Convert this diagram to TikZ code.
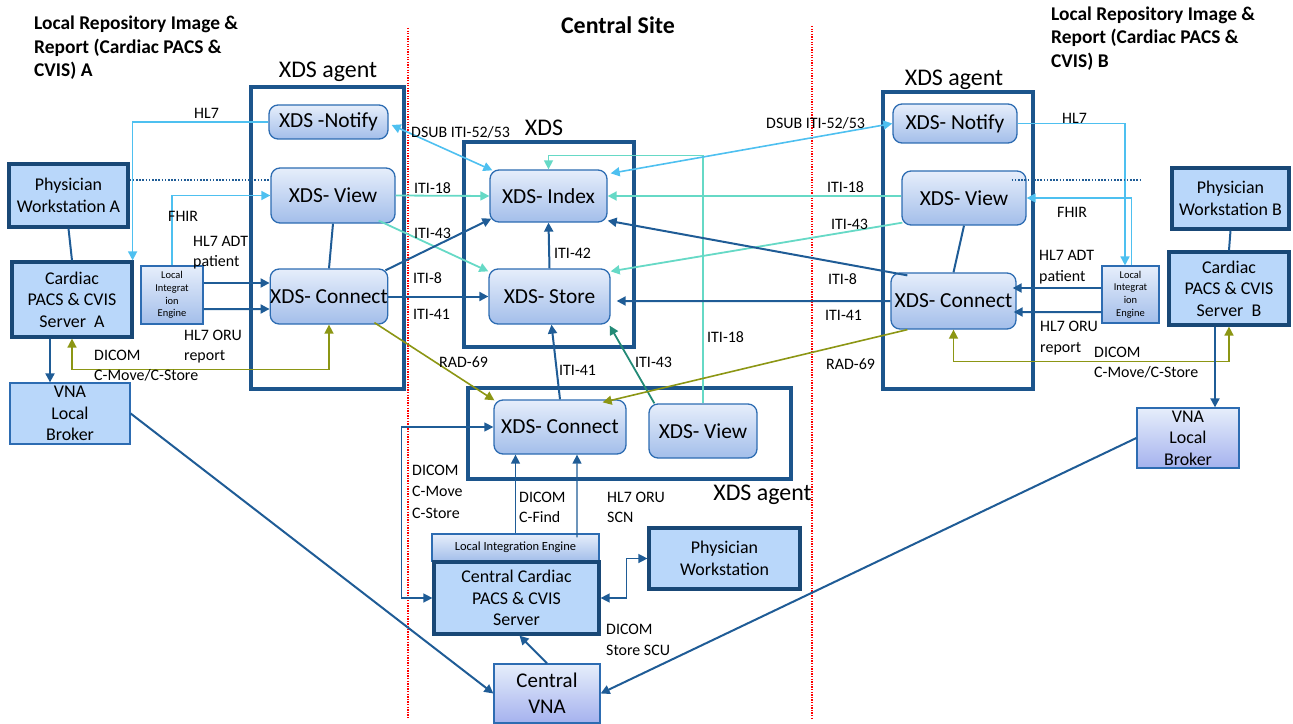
\documentclass[tikz,border=0pt]{standalone}
\usepackage{fontspec}
\setmainfont{Carlito}
\usetikzlibrary{arrows.meta,calc}
\definecolor{dblue}{RGB}{31,92,150}
\definecolor{thickborder}{RGB}{25,72,118}
\definecolor{agentborder}{RGB}{28,85,140}
\definecolor{nodeborder}{RGB}{45,108,178}
\definecolor{nodefill}{RGB}{185,215,250}
\definecolor{gtop}{RGB}{230,238,251}
\definecolor{gbot}{RGB}{163,190,234}
\definecolor{lavbot}{RGB}{165,178,238}
\definecolor{lblue}{RGB}{78,192,240}
\definecolor{turq}{RGB}{102,217,198}
\definecolor{tealc}{RGB}{35,138,118}
\definecolor{olive}{RGB}{140,150,20}
\begin{document}
\begin{tikzpicture}[x=1bp,y=-1bp,
  >={Triangle[length=9bp,width=9bp]},
  lbl/.style={font=\fontsize{16}{20.5}\selectfont, align=left, anchor=west, inner sep=0pt},
  ttl/.style={font=\fontsize{19.5}{23.5}\selectfont\bfseries, align=left, anchor=west, inner sep=0pt},
  boxttl/.style={font=\fontsize{24}{28}\selectfont, inner sep=0pt},
  agentbox/.style={draw=agentborder, line width=4bp, inner sep=0pt},
  xnode/.style={draw=nodeborder, line width=1.3bp, rounded corners=9bp, top color=gtop, bottom color=gbot, font=\fontsize{21.5}{25}\selectfont, inner sep=0pt},
  bbox/.style={draw=thickborder, line width=3.2bp, fill=nodefill, align=center, inner sep=0pt, font=\fontsize{18}{21.5}\selectfont},
  vbox/.style={draw=nodeborder, line width=1.3bp, fill=nodefill, align=center, inner sep=0pt, font=\fontsize{18}{21.5}\selectfont},
  lavbox/.style={draw=nodeborder, line width=1.3bp, top color=gtop, bottom color=lavbot, align=center, inner sep=0pt, font=\fontsize{18}{21.5}\selectfont},
  liebox/.style={draw=nodeborder, line width=1.1bp, top color=gtop, bottom color=gbot, align=center, inner sep=0pt, font=\fontsize{10.5}{12.8}\selectfont},
  cdb/.style={draw=dblue, line width=2bp},
  cthin/.style={draw=dblue, line width=1.4bp},
  clb/.style={draw=lblue, line width=1.6bp},
  ctq/.style={draw=turq, line width=1.8bp},
  cteal/.style={draw=tealc, line width=1.8bp},
  col/.style={draw=olive, line width=1.6bp},
  dotln/.style={draw=dblue, line width=1.8bp, dash pattern=on 1.6bp off 1.6bp},
  reddot/.style={draw=red, line width=1.3bp, dash pattern=on 1.3bp off 1.3bp}
]
\useasboundingbox (0,0) rectangle (1293,724);

% separators
\coordinate (sepLt) at (408,28); \coordinate (sepLb) at (408,718);
\coordinate (sepRt) at (812,26); \coordinate (sepRb) at (812,718);
\draw[reddot] (sepLt) -- (sepLb);
\draw[reddot] (sepRt) -- (sepRb);

% titles
\node[ttl] (titA) at (34,48) {Local Repository Image \&\\Report (Cardiac PACS \&\\CVIS) A};
\node[ttl] (titB) at (1051,38.5) {Local Repository Image \&\\Report (Cardiac PACS \&\\CVIS) B};
\node[font=\fontsize{24}{28}\selectfont\bfseries, inner sep=0pt] (titC) at (618,25) {Central Site};

% containers
\node[agentbox, minimum width=153bp, minimum height=302bp] (agentA) at (327.5,238) {};
\node[boxttl] (agentAt) at (328,72) {XDS agent};
\node[agentbox, minimum width=170bp, minimum height=205bp] (xdsbox) at (549,244.5) {};
\node[boxttl] (xdst) at (544,128) {XDS};
\node[agentbox, minimum width=323bp, minimum height=91bp] (agentC) at (629.5,433.5) {};
\node[boxttl] (agentCt) at (762.5,495) {XDS agent};
\node[agentbox, minimum width=150bp, minimum height=297bp] (agentB) at (958,240.5) {};
\node[boxttl] (agentBt) at (954,80) {XDS agent};

% left site
\node[bbox, minimum width=119bp, minimum height=63bp] (physA) at (68.5,195.5) {Physician\\Workstation A};
\node[bbox, minimum width=120bp, minimum height=75bp] (cardA) at (72,299.5) {Cardiac\\PACS \& CVIS\\Server~ A};
\node[vbox, minimum width=120bp, minimum height=61bp] (vnaA) at (70,413.5) {VNA\\Local\\Broker};
\node[liebox, minimum width=62bp, minimum height=58bp] (lieA) at (172,295) {Local\\Integrat\\ion\\Engine};
\node[xnode, minimum width=119bp, minimum height=34bp] (notifyA) at (328.5,122) {XDS -Notify};
\node[xnode, minimum width=124bp, minimum height=55bp] (viewA) at (333,195.5) {XDS- View};
\node[xnode, minimum width=116bp, minimum height=55bp] (connA) at (329,296.5) {XDS- Connect};

% central
\node[xnode, minimum width=117bp, minimum height=52bp] (index) at (548.5,196) {XDS- Index};
\node[xnode, minimum width=121bp, minimum height=55bp] (store) at (549.5,296.5) {XDS- Store};
\node[xnode, minimum width=132bp, minimum height=54bp] (connC) at (560,427) {XDS- Connect};
\node[xnode, minimum width=108bp, minimum height=54bp] (viewC) at (703,431) {XDS- View};
\node[liebox, minimum width=167bp, minimum height=27bp, font=\fontsize{12.5}{15}\selectfont] (lieC) at (515.5,547.5) {Local Integration Engine};
\node[bbox, minimum width=165bp, minimum height=72bp] (cpacs) at (516.5,598) {Central Cardiac\\PACS \& CVIS\\Server};
\node[bbox, minimum width=151bp, minimum height=61bp] (physC) at (724.5,558.5) {Physician\\Workstation};
\node[lavbox, minimum width=106bp, minimum height=59bp, font=\fontsize{21}{26}\selectfont] (cvna) at (547,693.5) {Central\\VNA};

% right site
\node[xnode, minimum width=124bp, minimum height=39bp] (notifyB) at (955,123.5) {XDS- Notify};
\node[xnode, minimum width=124bp, minimum height=54bp] (viewB) at (964,198) {XDS- View};
\node[xnode, minimum width=125bp, minimum height=56bp] (connB) at (953.5,301) {XDS- Connect};
\node[liebox, minimum width=57bp, minimum height=57bp] (lieB) at (1130.5,294.5) {Local\\Integrat\\ion\\Engine};
\node[bbox, minimum width=120bp, minimum height=73bp] (cardB) at (1229,288.5) {Cardiac\\PACS \& CVIS\\Server~ B};
\node[bbox, minimum width=117bp, minimum height=61bp] (physB) at (1230.5,198.5) {Physician\\Workstation B};
\node[lavbox, minimum width=102bp, minimum height=60bp] (vnaB) at (1188,438) {VNA\\Local\\Broker};

% ---------- connectors, left ----------
\draw[clb,->] (notifyA.west) -| ($(cardA.north east)+(-1,0)$);
\draw[dotln] ($(physA.east)+(0,-15.5)$) -- ($(viewA.west)+(0,-15.5)$);
\draw[clb,->] (lieA.north) |- (viewA.west);
\draw[cdb] (physA.south) -- (cardA.north);
\draw[cdb,->] ($(lieA.east)+(0,-12)$) -- ($(connA.west)+(0,-13.5)$);
\draw[cdb,->] ($(lieA.east)+(0,14)$) -- ($(connA.west)+(0,12.5)$);
\draw[col,<->] (cardA.south) -- ++(0,31) -| (connA.south);
\draw[cdb,->] ($(cardA.south)+(-22,0)$) -- ($(vnaA.north)+(-20,0)$);
\draw[cdb,->] (vnaA.east) -- (cvna.west);
\draw[cdb] (viewA.south) -- (connA.north);

% A to central
\draw[clb,<->] ($(notifyA.east)+(3,3)$) -- ($(index.north west)+(3,1)$);
\draw[ctq,->] (viewA.east) -- (index.west);
\draw[ctq,->] ($(viewA.south east)+(-17,-3)$) -- ($(store.north west)+(0,3)$);
\draw[cdb,->] ($(connA.north east)+(-3,2)$) -- ($(index.south west)+(2,-4)$);
\draw[cdb,->] (connA.east) -- (store.west);
\draw[col,->] ($(connA.south east)+(-14,-2)$) -- ($(connC.north west)+(1,1)$);

% central
\draw[cdb,->] (store.north) -- (index.south);
\draw[cdb,->] (connC.north) -- ($(store.south)+(2,0)$);
\draw[cteal,->] ($(viewC.north west)+(6,0)$) -- ($(store.south east)+(-1,1)$);
\draw[ctq,->,line width=1.5bp] (viewC.north) -- ++(0,-248) -| (index.north);

% B to central
\draw[clb,<->] (notifyB.west) -- ($(index.north east)+(3,4)$);
\draw[ctq,->] (index.east -| viewB.west) -- (index.east);
\draw[ctq,->] ($(viewB.south west)+(1,-3)$) -- ($(store.north east)+(0,3)$);
\draw[cdb,->] ($(connB.north west)+(17,3)$) -- ($(index.south east)+(0,-2)$);
\draw[cdb,->] (connB.west) -- ($(store.east)+(6,4.5)$);
\draw[col,->] ($(connB.south west)+(17,0)$) -- ($(connC.north east)+(-24,3)$);

% right site
\draw[cdb] (viewB.south) -- (connB.north);
\draw[clb,->] (notifyB.east) -| ($(lieB.north)+(-5.5,0)$);
\coordinate (dotB) at (1142,180);
\draw[dotln] ($(viewB.east)+(-15,-18)$) -- (dotB);
\draw[clb,->] ($(lieB.north)+(1,0)$) |- (viewB.east);
\draw[cdb] (physB.south) -- (cardB.north);
\draw[cdb,->] ($(lieB.west)+(0,-6.5)$) -- ($(connB.east)+(-4,-13)$);
\draw[cdb,->] ($(lieB.west)+(0,17.5)$) -- ($(connB.east)+(-3,11)$);
\draw[col,<->] (connB.south) -- ++(0,32) -| (cardB.south);
\draw[cdb,->] ($(cardB.south)+(-14,0)$) -- ($(vnaB.north)+(27,0)$);
\draw[cdb,->] (vnaB.west) -- (cvna.east);

% central bottom
\draw[cthin,<->] (cpacs.west) -- ++(-31,0) |- (connC.west);
\draw[cthin,->] (lieC.north) -- (lieC.north |- connC.south);
\draw[cthin,->] ($(lieC.north)+(61.5,4)$) -- ($(connC.south)+(17,0)$);
\draw[cthin,<->] (cpacs.east) -- ++(26,0) |- (physC.west);
\draw[cdb,->] (cvna.north) -- ($(cpacs.south)+(3,0)$);

% ---------- labels ----------
\node[lbl] (lHL7A) at (194,113) {HL7};
\node[lbl] (lFHIRA) at (168,216) {FHIR};
\node[lbl] (lADTA) at (193,252.5) {HL7 ADT\\patient};
\node[lbl] (lORUA) at (184,346.5) {HL7 ORU\\report};
\node[lbl, font=\fontsize{16}{19.5}\selectfont] (lDICOMA) at (94,365.5) {DICOM\\C-Move/C-Store};
\node[lbl] (lDSUBA) at (411,132) {DSUB ITI-52/53};
\node[lbl] (l18A) at (414,188) {ITI-18};
\node[lbl] (l43A) at (414,233) {ITI-43};
\node[lbl] (l8A) at (413,278) {ITI-8};
\node[lbl] (l41A) at (413,314) {ITI-41};
\node[lbl] (lRADA) at (439,362) {RAD-69};
\node[lbl] (l42) at (554,253) {ITI-42};
\node[lbl] (l41C) at (559,370) {ITI-41};
\node[lbl] (l43C) at (635,362) {ITI-43};
\node[lbl] (l18C) at (707,337) {ITI-18};
\node[lbl] (lDSUBB) at (766,123) {DSUB ITI-52/53};
\node[lbl] (l18B) at (827,187) {ITI-18};
\node[lbl] (l43B) at (831,224) {ITI-43};
\node[lbl] (l8B) at (828,279) {ITI-8};
\node[lbl] (l41B) at (825,315) {ITI-41};
\node[lbl] (lRADB) at (826,364) {RAD-69};
\node[lbl] (lHL7B) at (1062,118) {HL7};
\node[lbl] (lFHIRB) at (1057,212) {FHIR};
\node[lbl] (lADTB) at (1039,267) {HL7 ADT\\patient};
\node[lbl] (lORUB) at (1040,338) {HL7 ORU\\report};
\node[lbl, font=\fontsize{16}{19.5}\selectfont] (lDICOMB) at (1094,362.5) {DICOM\\C-Move/C-Store};
\node[lbl, font=\fontsize{16}{21.5}\selectfont] (lDICOMC) at (412,491.5) {DICOM\\C-Move\\C-Store};
\node[lbl] (lFind) at (519,507.5) {DICOM\\C-Find};
\node[lbl] (lSCN) at (607,507.5) {HL7 ORU\\SCN};
\node[lbl] (lSCU) at (606,640) {DICOM\\Store SCU};
\end{tikzpicture}
\end{document}
